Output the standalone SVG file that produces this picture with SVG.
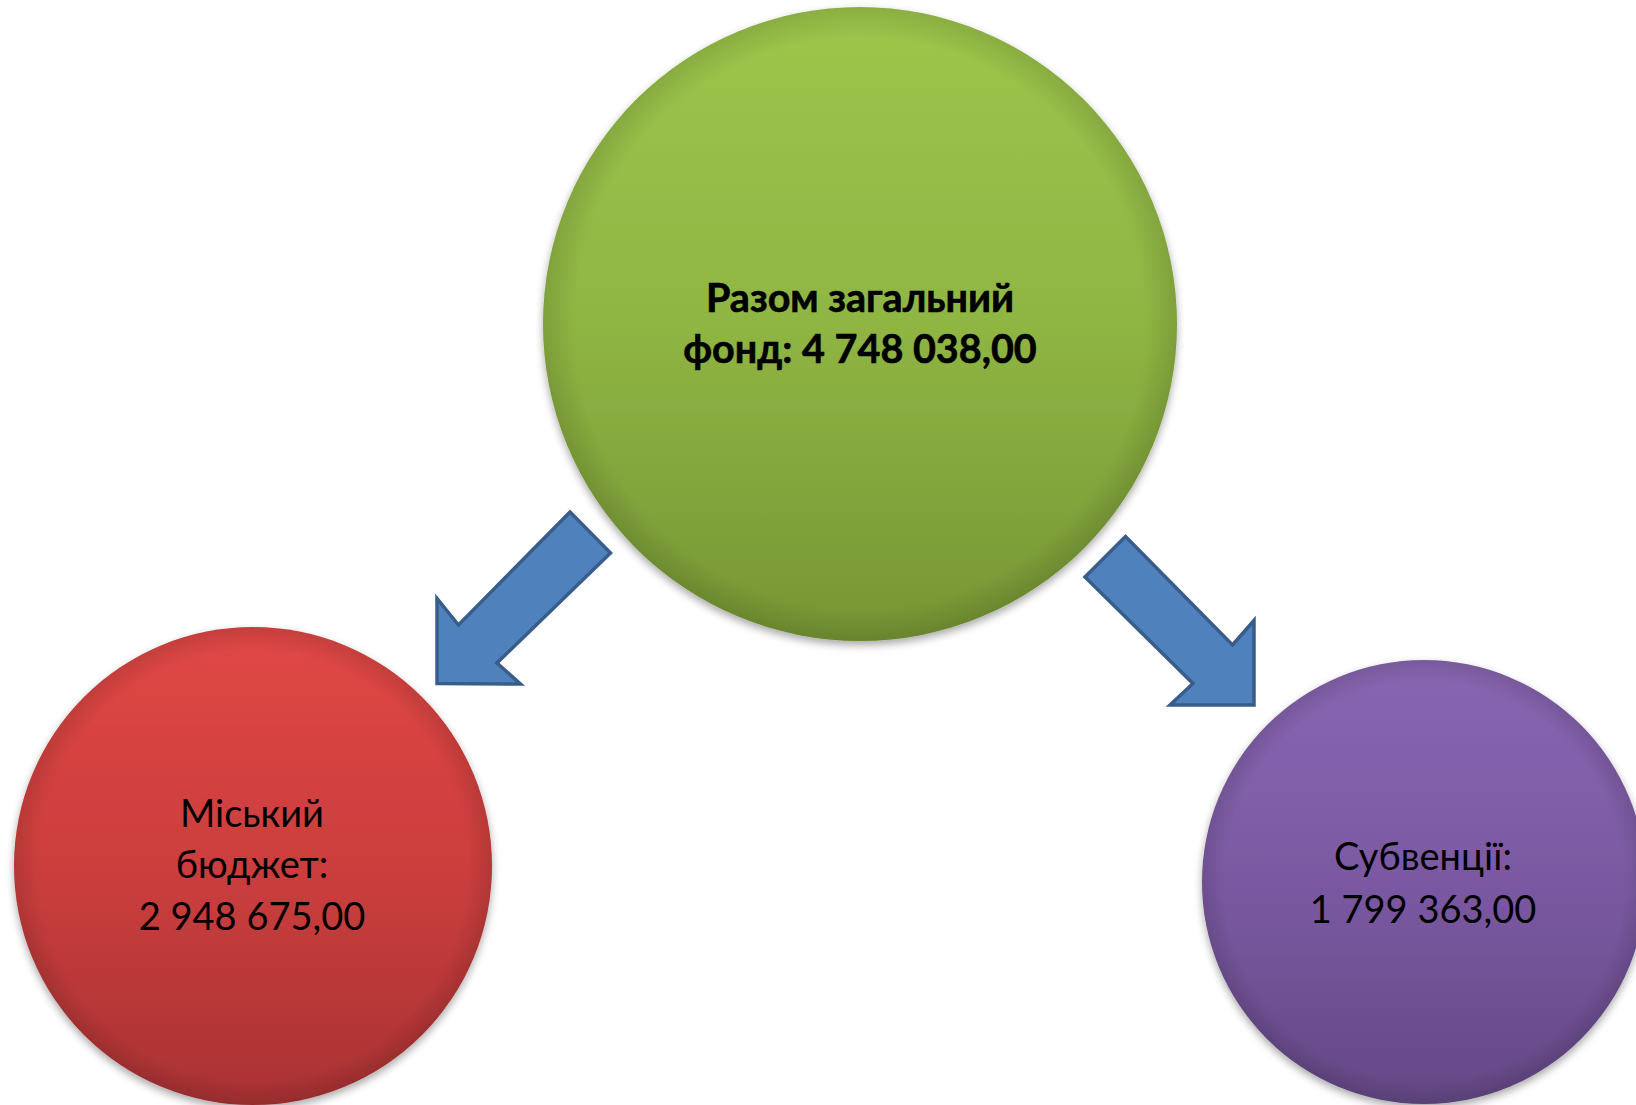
<svg xmlns="http://www.w3.org/2000/svg" width="1636" height="1105" viewBox="0 0 1636 1105">
  <style>
    .lbl { font-family: Lato, "Liberation Sans", "Noto Sans", sans-serif; font-size: 38px; fill: #000; text-anchor: middle; }
    .bold { font-weight: bold; font-size: 39.5px; stroke: #000; stroke-width: 0.6; }
    .arrow { fill: #4F81BD; stroke: #385D8A; stroke-width: 3.5; stroke-linejoin: miter; }
  </style>
  <defs>
    <linearGradient id="gGreen" x1="0" y1="0" x2="0" y2="1">
      <stop offset="0" stop-color="#9DC64B"/>
      <stop offset="0.5" stop-color="#8FB543"/>
      <stop offset="1" stop-color="#769634"/>
    </linearGradient>
    <linearGradient id="gRed" x1="0" y1="0" x2="0" y2="1">
      <stop offset="0" stop-color="#E04745"/>
      <stop offset="0.5" stop-color="#CC3E3D"/>
      <stop offset="1" stop-color="#A93233"/>
    </linearGradient>
    <linearGradient id="gPurple" x1="0" y1="0" x2="0" y2="1">
      <stop offset="0" stop-color="#8966B2"/>
      <stop offset="0.5" stop-color="#7B59A2"/>
      <stop offset="1" stop-color="#644885"/>
    </linearGradient>
    <radialGradient id="rim" cx="0.5" cy="0.5" r="0.5">
      <stop offset="0.9" stop-color="#000" stop-opacity="0"/>
      <stop offset="1" stop-color="#000" stop-opacity="0.12"/>
    </radialGradient>
    <filter id="shadow" x="-10%" y="-10%" width="120%" height="125%">
      <feGaussianBlur in="SourceAlpha" stdDeviation="4"/>
      <feOffset dx="0" dy="4" result="b"/>
      <feComponentTransfer><feFuncA type="linear" slope="0.35"/></feComponentTransfer>
      <feMerge><feMergeNode/><feMergeNode in="SourceGraphic"/></feMerge>
    </filter>
  </defs>
  <rect width="1636" height="1105" fill="#FFFFFF"/>

  <g id="node-total">
    <circle cx="860" cy="324" r="317" fill="url(#gGreen)" filter="url(#shadow)"/>
    <circle cx="860" cy="324" r="317" fill="url(#rim)"/>
    <text class="lbl bold" x="860" y="312">Разом загальний</text>
    <text class="lbl bold" x="860" y="363">фонд: 4 748 038,00</text>
  </g>

  <g id="node-city">
    <circle cx="253" cy="866" r="239" fill="url(#gRed)" filter="url(#shadow)"/>
    <circle cx="253" cy="866" r="239" fill="url(#rim)"/>
    <text class="lbl" x="252" y="827">Міський</text>
    <text class="lbl" x="252" y="878">бюджет:</text>
    <text class="lbl" x="252" y="930">2 948 675,00</text>
  </g>

  <g id="node-subv">
    <circle cx="1424" cy="882" r="222" fill="url(#gPurple)" filter="url(#shadow)"/>
    <circle cx="1424" cy="882" r="222" fill="url(#rim)"/>
    <text class="lbl" x="1423" y="870">Субвенції:</text>
    <text class="lbl" x="1423" y="923">1 799 363,00</text>
  </g>

  <g id="connectors">
    <polygon class="arrow" points="570,512 610.5,553 497,663 520.5,684 437,683.5 437,598.5 458.5,625"/>
    <polygon class="arrow" points="1125.5,536.5 1085,577 1193,683.5 1170,705 1254,705 1254,620.5 1232.5,645"/>
  </g>
</svg>
